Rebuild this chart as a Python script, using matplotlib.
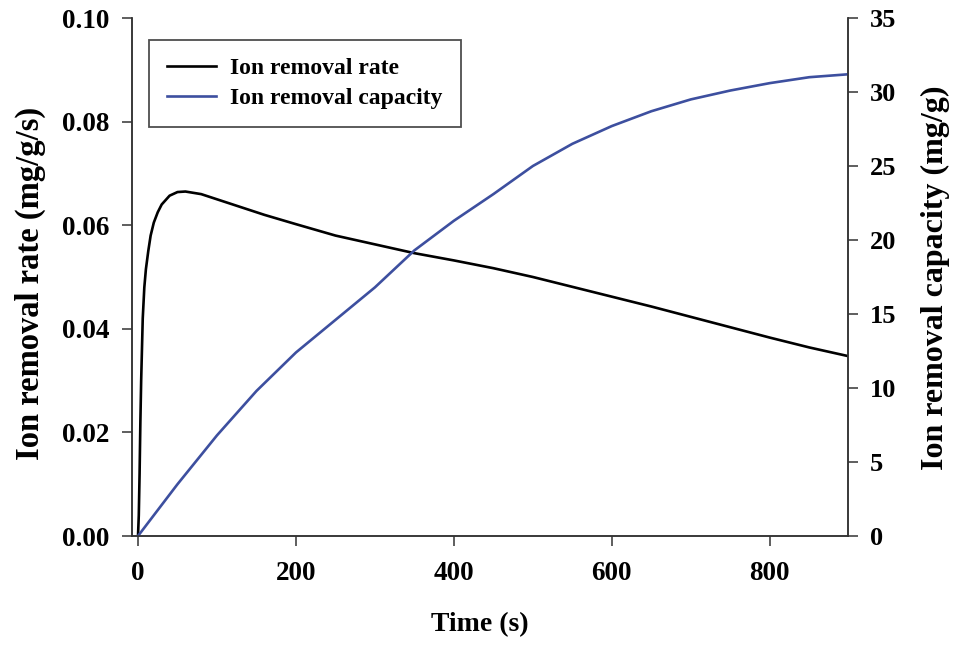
import matplotlib.pyplot as plt
import numpy as np

plt.rcParams['font.family'] = ['Liberation Serif', 'DejaVu Serif']
plt.rcParams['font.weight'] = 'bold'

# removal rate (mg/g/s) vs time (s)
t_rate = [0, 1, 2, 3, 4, 5, 6, 8, 10, 13, 16, 20, 25, 30, 40, 50, 60, 80, 100,
          130, 160, 200, 250, 300, 350, 400, 450, 500, 550, 600, 650, 700,
          750, 800, 850, 900]
rate = [0, 0.004, 0.012, 0.022, 0.030, 0.036, 0.042, 0.048, 0.0515, 0.055,
        0.058, 0.0605, 0.0625, 0.064, 0.0657, 0.0664, 0.0665, 0.0660, 0.0650,
        0.0635, 0.0620, 0.0602, 0.0580, 0.0563, 0.0546, 0.0532, 0.0517,
        0.0500, 0.0481, 0.0462, 0.0443, 0.0423, 0.0403, 0.0383, 0.0364,
        0.0347]

# removal capacity (mg/g) vs time (s)
t_cap = [0, 50, 100, 150, 200, 250, 300, 350, 400, 450, 500, 550, 600, 650,
         700, 750, 800, 850, 900]
cap = [0, 3.5, 6.8, 9.8, 12.4, 14.6, 16.8, 19.3, 21.3, 23.1, 25.0, 26.5,
       27.7, 28.7, 29.5, 30.1, 30.6, 31.0, 31.2]

blue = '#3d4f9f'

fig = plt.figure(figsize=(9.59, 6.47), dpi=100)
ax = fig.add_axes([132/959, 111/647, 716/959, 518/647])
ax2 = ax.twinx()

l1, = ax.plot(t_rate, rate, color='black', lw=1.9, label='Ion removal rate')
l2, = ax2.plot(t_cap, cap, color=blue, lw=1.9, label='Ion removal capacity')

ax.set_xlim(-7.6, 899)
ax.set_ylim(0, 0.10)
ax2.set_ylim(0, 35)
ax.set_xticks([0, 200, 400, 600, 800])
ax.set_yticks(np.arange(0, 0.101, 0.02))
ax.yaxis.set_major_formatter(plt.FormatStrFormatter('%.2f'))
ax2.set_yticks(range(0, 36, 5))

for a in (ax, ax2):
    a.spines['top'].set_visible(False)
    for s in a.spines.values():
        s.set_color('#333333')
        s.set_linewidth(1.1)
    a.tick_params(direction='out', length=7, width=1.1, color='#333333',
                  labelsize=19.5, pad=9)
ax.tick_params(axis='x', pad=11)
ax2.tick_params(labelsize=19)

fig.text(30/959, 1 - 283/647, 'Ion removal rate (mg/g/s)', rotation=90,
         ha='center', va='center', fontsize=23.5, fontweight='bold')
fig.text(935/959, 1 - 278/647, 'Ion removal capacity (mg/g)', rotation=90,
         ha='center', va='center', fontsize=23, fontweight='bold')
fig.text(480/959, 1 - 625/647, 'Time (s)', ha='center', va='center',
         fontsize=20, fontweight='bold')

leg = ax.legend(handles=[l1, l2], loc='upper left',
                bbox_to_anchor=(17/716, 1 - 22/518), borderaxespad=0,
                fontsize=17, frameon=True, fancybox=False, handlelength=2.1,
                borderpad=0.75, labelspacing=0.35, handletextpad=0.6)
leg.get_frame().set_edgecolor('#222222')
leg.get_frame().set_linewidth(1.3)
for txt in leg.get_texts():
    txt.set_fontweight('bold')

fig.savefig('out.png', dpi=100)
